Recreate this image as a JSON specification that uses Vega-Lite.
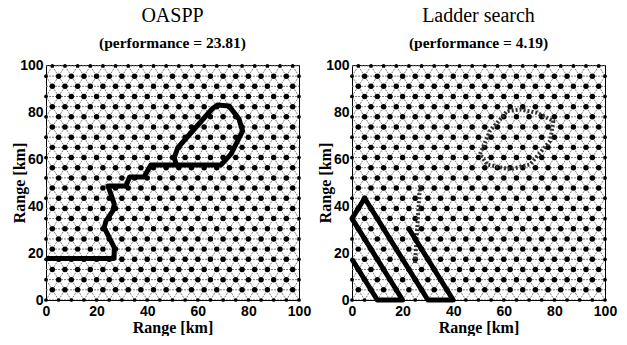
{
"$schema": "https://vega.github.io/schema/vega-lite/v6.json",
"padding": {"left": 10, "top": 5, "right": 0, "bottom": 0},
"spacing": 4,
"config": {
 "view": {"stroke": "black", "strokeWidth": 1},
 "axis": {"grid": false, "ticks": false, "domainColor": "black", "domainWidth": 1, "labelFont": "Liberation Sans", "labelFontSize": 14, "labelFontWeight": "bold", "labelColor": "black", "titleFont": "Liberation Serif", "titleFontSize": 16, "titleFontWeight": "bold", "titleColor": "black", "tickCount": 5, "labelFlush": false, "labelBound": false, "labelOverlap": false},
 "axisX": {"labelPadding": 4, "titlePadding": 1},
 "axisY": {"labelPadding": 3, "titleX": -19},
 "title": {"font": "Liberation Serif", "fontSize": 20, "fontWeight": "normal", "color": "black", "subtitleFont": "Liberation Serif", "subtitleFontSize": 15.5, "subtitleFontWeight": "bold", "subtitleColor": "black", "anchor": "middle", "offset": 7, "subtitlePadding": 10}
},
"datasets": {
 "grid": [
{"x":0,"y":0},{"x":5,"y":0},{"x":10,"y":0},{"x":15,"y":0},{"x":20,"y":0},{"x":25,"y":0},{"x":30,"y":0},{"x":35,"y":0},{"x":40,"y":0},{"x":45,"y":0},{"x":50,"y":0},{"x":55,"y":0},{"x":60,"y":0},{"x":65,"y":0},{"x":70,"y":0},{"x":75,"y":0},{"x":80,"y":0},{"x":85,"y":0},{"x":90,"y":0},{"x":95,"y":0},{"x":100,"y":0},
{"x":2.5,"y":4.33},{"x":7.5,"y":4.33},{"x":12.5,"y":4.33},{"x":17.5,"y":4.33},{"x":22.5,"y":4.33},{"x":27.5,"y":4.33},{"x":32.5,"y":4.33},{"x":37.5,"y":4.33},{"x":42.5,"y":4.33},{"x":47.5,"y":4.33},{"x":52.5,"y":4.33},{"x":57.5,"y":4.33},{"x":62.5,"y":4.33},{"x":67.5,"y":4.33},{"x":72.5,"y":4.33},{"x":77.5,"y":4.33},{"x":82.5,"y":4.33},{"x":87.5,"y":4.33},{"x":92.5,"y":4.33},{"x":97.5,"y":4.33},
{"x":0,"y":8.66},{"x":5,"y":8.66},{"x":10,"y":8.66},{"x":15,"y":8.66},{"x":20,"y":8.66},{"x":25,"y":8.66},{"x":30,"y":8.66},{"x":35,"y":8.66},{"x":40,"y":8.66},{"x":45,"y":8.66},{"x":50,"y":8.66},{"x":55,"y":8.66},{"x":60,"y":8.66},{"x":65,"y":8.66},{"x":70,"y":8.66},{"x":75,"y":8.66},{"x":80,"y":8.66},{"x":85,"y":8.66},{"x":90,"y":8.66},{"x":95,"y":8.66},{"x":100,"y":8.66},
{"x":2.5,"y":12.99},{"x":7.5,"y":12.99},{"x":12.5,"y":12.99},{"x":17.5,"y":12.99},{"x":22.5,"y":12.99},{"x":27.5,"y":12.99},{"x":32.5,"y":12.99},{"x":37.5,"y":12.99},{"x":42.5,"y":12.99},{"x":47.5,"y":12.99},{"x":52.5,"y":12.99},{"x":57.5,"y":12.99},{"x":62.5,"y":12.99},{"x":67.5,"y":12.99},{"x":72.5,"y":12.99},{"x":77.5,"y":12.99},{"x":82.5,"y":12.99},{"x":87.5,"y":12.99},{"x":92.5,"y":12.99},{"x":97.5,"y":12.99},
{"x":0,"y":17.32},{"x":5,"y":17.32},{"x":10,"y":17.32},{"x":15,"y":17.32},{"x":20,"y":17.32},{"x":25,"y":17.32},{"x":30,"y":17.32},{"x":35,"y":17.32},{"x":40,"y":17.32},{"x":45,"y":17.32},{"x":50,"y":17.32},{"x":55,"y":17.32},{"x":60,"y":17.32},{"x":65,"y":17.32},{"x":70,"y":17.32},{"x":75,"y":17.32},{"x":80,"y":17.32},{"x":85,"y":17.32},{"x":90,"y":17.32},{"x":95,"y":17.32},{"x":100,"y":17.32},
{"x":2.5,"y":21.65},{"x":7.5,"y":21.65},{"x":12.5,"y":21.65},{"x":17.5,"y":21.65},{"x":22.5,"y":21.65},{"x":27.5,"y":21.65},{"x":32.5,"y":21.65},{"x":37.5,"y":21.65},{"x":42.5,"y":21.65},{"x":47.5,"y":21.65},{"x":52.5,"y":21.65},{"x":57.5,"y":21.65},{"x":62.5,"y":21.65},{"x":67.5,"y":21.65},{"x":72.5,"y":21.65},{"x":77.5,"y":21.65},{"x":82.5,"y":21.65},{"x":87.5,"y":21.65},{"x":92.5,"y":21.65},{"x":97.5,"y":21.65},
{"x":0,"y":25.98},{"x":5,"y":25.98},{"x":10,"y":25.98},{"x":15,"y":25.98},{"x":20,"y":25.98},{"x":25,"y":25.98},{"x":30,"y":25.98},{"x":35,"y":25.98},{"x":40,"y":25.98},{"x":45,"y":25.98},{"x":50,"y":25.98},{"x":55,"y":25.98},{"x":60,"y":25.98},{"x":65,"y":25.98},{"x":70,"y":25.98},{"x":75,"y":25.98},{"x":80,"y":25.98},{"x":85,"y":25.98},{"x":90,"y":25.98},{"x":95,"y":25.98},{"x":100,"y":25.98},
{"x":2.5,"y":30.31},{"x":7.5,"y":30.31},{"x":12.5,"y":30.31},{"x":17.5,"y":30.31},{"x":22.5,"y":30.31},{"x":27.5,"y":30.31},{"x":32.5,"y":30.31},{"x":37.5,"y":30.31},{"x":42.5,"y":30.31},{"x":47.5,"y":30.31},{"x":52.5,"y":30.31},{"x":57.5,"y":30.31},{"x":62.5,"y":30.31},{"x":67.5,"y":30.31},{"x":72.5,"y":30.31},{"x":77.5,"y":30.31},{"x":82.5,"y":30.31},{"x":87.5,"y":30.31},{"x":92.5,"y":30.31},{"x":97.5,"y":30.31},
{"x":0,"y":34.64},{"x":5,"y":34.64},{"x":10,"y":34.64},{"x":15,"y":34.64},{"x":20,"y":34.64},{"x":25,"y":34.64},{"x":30,"y":34.64},{"x":35,"y":34.64},{"x":40,"y":34.64},{"x":45,"y":34.64},{"x":50,"y":34.64},{"x":55,"y":34.64},{"x":60,"y":34.64},{"x":65,"y":34.64},{"x":70,"y":34.64},{"x":75,"y":34.64},{"x":80,"y":34.64},{"x":85,"y":34.64},{"x":90,"y":34.64},{"x":95,"y":34.64},{"x":100,"y":34.64},
{"x":2.5,"y":38.97},{"x":7.5,"y":38.97},{"x":12.5,"y":38.97},{"x":17.5,"y":38.97},{"x":22.5,"y":38.97},{"x":27.5,"y":38.97},{"x":32.5,"y":38.97},{"x":37.5,"y":38.97},{"x":42.5,"y":38.97},{"x":47.5,"y":38.97},{"x":52.5,"y":38.97},{"x":57.5,"y":38.97},{"x":62.5,"y":38.97},{"x":67.5,"y":38.97},{"x":72.5,"y":38.97},{"x":77.5,"y":38.97},{"x":82.5,"y":38.97},{"x":87.5,"y":38.97},{"x":92.5,"y":38.97},{"x":97.5,"y":38.97},
{"x":0,"y":43.3},{"x":5,"y":43.3},{"x":10,"y":43.3},{"x":15,"y":43.3},{"x":20,"y":43.3},{"x":25,"y":43.3},{"x":30,"y":43.3},{"x":35,"y":43.3},{"x":40,"y":43.3},{"x":45,"y":43.3},{"x":50,"y":43.3},{"x":55,"y":43.3},{"x":60,"y":43.3},{"x":65,"y":43.3},{"x":70,"y":43.3},{"x":75,"y":43.3},{"x":80,"y":43.3},{"x":85,"y":43.3},{"x":90,"y":43.3},{"x":95,"y":43.3},{"x":100,"y":43.3},
{"x":2.5,"y":47.63},{"x":7.5,"y":47.63},{"x":12.5,"y":47.63},{"x":17.5,"y":47.63},{"x":22.5,"y":47.63},{"x":27.5,"y":47.63},{"x":32.5,"y":47.63},{"x":37.5,"y":47.63},{"x":42.5,"y":47.63},{"x":47.5,"y":47.63},{"x":52.5,"y":47.63},{"x":57.5,"y":47.63},{"x":62.5,"y":47.63},{"x":67.5,"y":47.63},{"x":72.5,"y":47.63},{"x":77.5,"y":47.63},{"x":82.5,"y":47.63},{"x":87.5,"y":47.63},{"x":92.5,"y":47.63},{"x":97.5,"y":47.63},
{"x":0,"y":51.96},{"x":5,"y":51.96},{"x":10,"y":51.96},{"x":15,"y":51.96},{"x":20,"y":51.96},{"x":25,"y":51.96},{"x":30,"y":51.96},{"x":35,"y":51.96},{"x":40,"y":51.96},{"x":45,"y":51.96},{"x":50,"y":51.96},{"x":55,"y":51.96},{"x":60,"y":51.96},{"x":65,"y":51.96},{"x":70,"y":51.96},{"x":75,"y":51.96},{"x":80,"y":51.96},{"x":85,"y":51.96},{"x":90,"y":51.96},{"x":95,"y":51.96},{"x":100,"y":51.96},
{"x":2.5,"y":56.29},{"x":7.5,"y":56.29},{"x":12.5,"y":56.29},{"x":17.5,"y":56.29},{"x":22.5,"y":56.29},{"x":27.5,"y":56.29},{"x":32.5,"y":56.29},{"x":37.5,"y":56.29},{"x":42.5,"y":56.29},{"x":47.5,"y":56.29},{"x":52.5,"y":56.29},{"x":57.5,"y":56.29},{"x":62.5,"y":56.29},{"x":67.5,"y":56.29},{"x":72.5,"y":56.29},{"x":77.5,"y":56.29},{"x":82.5,"y":56.29},{"x":87.5,"y":56.29},{"x":92.5,"y":56.29},{"x":97.5,"y":56.29},
{"x":0,"y":60.62},{"x":5,"y":60.62},{"x":10,"y":60.62},{"x":15,"y":60.62},{"x":20,"y":60.62},{"x":25,"y":60.62},{"x":30,"y":60.62},{"x":35,"y":60.62},{"x":40,"y":60.62},{"x":45,"y":60.62},{"x":50,"y":60.62},{"x":55,"y":60.62},{"x":60,"y":60.62},{"x":65,"y":60.62},{"x":70,"y":60.62},{"x":75,"y":60.62},{"x":80,"y":60.62},{"x":85,"y":60.62},{"x":90,"y":60.62},{"x":95,"y":60.62},{"x":100,"y":60.62},
{"x":2.5,"y":64.95},{"x":7.5,"y":64.95},{"x":12.5,"y":64.95},{"x":17.5,"y":64.95},{"x":22.5,"y":64.95},{"x":27.5,"y":64.95},{"x":32.5,"y":64.95},{"x":37.5,"y":64.95},{"x":42.5,"y":64.95},{"x":47.5,"y":64.95},{"x":52.5,"y":64.95},{"x":57.5,"y":64.95},{"x":62.5,"y":64.95},{"x":67.5,"y":64.95},{"x":72.5,"y":64.95},{"x":77.5,"y":64.95},{"x":82.5,"y":64.95},{"x":87.5,"y":64.95},{"x":92.5,"y":64.95},{"x":97.5,"y":64.95},
{"x":0,"y":69.28},{"x":5,"y":69.28},{"x":10,"y":69.28},{"x":15,"y":69.28},{"x":20,"y":69.28},{"x":25,"y":69.28},{"x":30,"y":69.28},{"x":35,"y":69.28},{"x":40,"y":69.28},{"x":45,"y":69.28},{"x":50,"y":69.28},{"x":55,"y":69.28},{"x":60,"y":69.28},{"x":65,"y":69.28},{"x":70,"y":69.28},{"x":75,"y":69.28},{"x":80,"y":69.28},{"x":85,"y":69.28},{"x":90,"y":69.28},{"x":95,"y":69.28},{"x":100,"y":69.28},
{"x":2.5,"y":73.61},{"x":7.5,"y":73.61},{"x":12.5,"y":73.61},{"x":17.5,"y":73.61},{"x":22.5,"y":73.61},{"x":27.5,"y":73.61},{"x":32.5,"y":73.61},{"x":37.5,"y":73.61},{"x":42.5,"y":73.61},{"x":47.5,"y":73.61},{"x":52.5,"y":73.61},{"x":57.5,"y":73.61},{"x":62.5,"y":73.61},{"x":67.5,"y":73.61},{"x":72.5,"y":73.61},{"x":77.5,"y":73.61},{"x":82.5,"y":73.61},{"x":87.5,"y":73.61},{"x":92.5,"y":73.61},{"x":97.5,"y":73.61},
{"x":0,"y":77.94},{"x":5,"y":77.94},{"x":10,"y":77.94},{"x":15,"y":77.94},{"x":20,"y":77.94},{"x":25,"y":77.94},{"x":30,"y":77.94},{"x":35,"y":77.94},{"x":40,"y":77.94},{"x":45,"y":77.94},{"x":50,"y":77.94},{"x":55,"y":77.94},{"x":60,"y":77.94},{"x":65,"y":77.94},{"x":70,"y":77.94},{"x":75,"y":77.94},{"x":80,"y":77.94},{"x":85,"y":77.94},{"x":90,"y":77.94},{"x":95,"y":77.94},{"x":100,"y":77.94},
{"x":2.5,"y":82.27},{"x":7.5,"y":82.27},{"x":12.5,"y":82.27},{"x":17.5,"y":82.27},{"x":22.5,"y":82.27},{"x":27.5,"y":82.27},{"x":32.5,"y":82.27},{"x":37.5,"y":82.27},{"x":42.5,"y":82.27},{"x":47.5,"y":82.27},{"x":52.5,"y":82.27},{"x":57.5,"y":82.27},{"x":62.5,"y":82.27},{"x":67.5,"y":82.27},{"x":72.5,"y":82.27},{"x":77.5,"y":82.27},{"x":82.5,"y":82.27},{"x":87.5,"y":82.27},{"x":92.5,"y":82.27},{"x":97.5,"y":82.27},
{"x":0,"y":86.6},{"x":5,"y":86.6},{"x":10,"y":86.6},{"x":15,"y":86.6},{"x":20,"y":86.6},{"x":25,"y":86.6},{"x":30,"y":86.6},{"x":35,"y":86.6},{"x":40,"y":86.6},{"x":45,"y":86.6},{"x":50,"y":86.6},{"x":55,"y":86.6},{"x":60,"y":86.6},{"x":65,"y":86.6},{"x":70,"y":86.6},{"x":75,"y":86.6},{"x":80,"y":86.6},{"x":85,"y":86.6},{"x":90,"y":86.6},{"x":95,"y":86.6},{"x":100,"y":86.6},
{"x":2.5,"y":90.93},{"x":7.5,"y":90.93},{"x":12.5,"y":90.93},{"x":17.5,"y":90.93},{"x":22.5,"y":90.93},{"x":27.5,"y":90.93},{"x":32.5,"y":90.93},{"x":37.5,"y":90.93},{"x":42.5,"y":90.93},{"x":47.5,"y":90.93},{"x":52.5,"y":90.93},{"x":57.5,"y":90.93},{"x":62.5,"y":90.93},{"x":67.5,"y":90.93},{"x":72.5,"y":90.93},{"x":77.5,"y":90.93},{"x":82.5,"y":90.93},{"x":87.5,"y":90.93},{"x":92.5,"y":90.93},{"x":97.5,"y":90.93},
{"x":0,"y":95.26},{"x":5,"y":95.26},{"x":10,"y":95.26},{"x":15,"y":95.26},{"x":20,"y":95.26},{"x":25,"y":95.26},{"x":30,"y":95.26},{"x":35,"y":95.26},{"x":40,"y":95.26},{"x":45,"y":95.26},{"x":50,"y":95.26},{"x":55,"y":95.26},{"x":60,"y":95.26},{"x":65,"y":95.26},{"x":70,"y":95.26},{"x":75,"y":95.26},{"x":80,"y":95.26},{"x":85,"y":95.26},{"x":90,"y":95.26},{"x":95,"y":95.26},{"x":100,"y":95.26},
{"x":2.5,"y":99.59},{"x":7.5,"y":99.59},{"x":12.5,"y":99.59},{"x":17.5,"y":99.59},{"x":22.5,"y":99.59},{"x":27.5,"y":99.59},{"x":32.5,"y":99.59},{"x":37.5,"y":99.59},{"x":42.5,"y":99.59},{"x":47.5,"y":99.59},{"x":52.5,"y":99.59},{"x":57.5,"y":99.59},{"x":62.5,"y":99.59},{"x":67.5,"y":99.59},{"x":72.5,"y":99.59},{"x":77.5,"y":99.59},{"x":82.5,"y":99.59},{"x":87.5,"y":99.59},{"x":92.5,"y":99.59},{"x":97.5,"y":99.59}
 ],
 "mesh": [
{"a":0,"b":0,"c":100,"d":0},{"a":0,"b":4.33,"c":100,"d":4.33},{"a":0,"b":8.66,"c":100,"d":8.66},{"a":0,"b":12.99,"c":100,"d":12.99},{"a":0,"b":17.32,"c":100,"d":17.32},{"a":0,"b":21.65,"c":100,"d":21.65},{"a":0,"b":25.98,"c":100,"d":25.98},{"a":0,"b":30.31,"c":100,"d":30.31},{"a":0,"b":34.64,"c":100,"d":34.64},{"a":0,"b":38.97,"c":100,"d":38.97},{"a":0,"b":43.3,"c":100,"d":43.3},{"a":0,"b":47.63,"c":100,"d":47.63},{"a":0,"b":51.96,"c":100,"d":51.96},{"a":0,"b":56.29,"c":100,"d":56.29},{"a":0,"b":60.62,"c":100,"d":60.62},{"a":0,"b":64.95,"c":100,"d":64.95},{"a":0,"b":69.28,"c":100,"d":69.28},{"a":0,"b":73.61,"c":100,"d":73.61},{"a":0,"b":77.94,"c":100,"d":77.94},{"a":0,"b":82.27,"c":100,"d":82.27},{"a":0,"b":86.6,"c":100,"d":86.6},{"a":0,"b":90.93,"c":100,"d":90.93},{"a":0,"b":95.26,"c":100,"d":95.26},{"a":0,"b":99.59,"c":100,"d":99.59},
{"a":-55,"b":0,"c":2.5,"d":99.59},{"a":-50,"b":0,"c":7.5,"d":99.59},{"a":-45,"b":0,"c":12.5,"d":99.59},{"a":-40,"b":0,"c":17.5,"d":99.59},{"a":-35,"b":0,"c":22.5,"d":99.59},{"a":-30,"b":0,"c":27.5,"d":99.59},{"a":-25,"b":0,"c":32.5,"d":99.59},{"a":-20,"b":0,"c":37.5,"d":99.59},{"a":-15,"b":0,"c":42.5,"d":99.59},{"a":-10,"b":0,"c":47.5,"d":99.59},{"a":-5,"b":0,"c":52.5,"d":99.59},{"a":0,"b":0,"c":57.5,"d":99.59},{"a":5,"b":0,"c":62.5,"d":99.59},{"a":10,"b":0,"c":67.5,"d":99.59},{"a":15,"b":0,"c":72.5,"d":99.59},{"a":20,"b":0,"c":77.5,"d":99.59},{"a":25,"b":0,"c":82.5,"d":99.59},{"a":30,"b":0,"c":87.5,"d":99.59},{"a":35,"b":0,"c":92.5,"d":99.59},{"a":40,"b":0,"c":97.5,"d":99.59},{"a":45,"b":0,"c":102.5,"d":99.59},{"a":50,"b":0,"c":107.5,"d":99.59},{"a":55,"b":0,"c":112.5,"d":99.59},{"a":60,"b":0,"c":117.5,"d":99.59},{"a":65,"b":0,"c":122.5,"d":99.59},{"a":70,"b":0,"c":127.5,"d":99.59},{"a":75,"b":0,"c":132.5,"d":99.59},{"a":80,"b":0,"c":137.5,"d":99.59},{"a":85,"b":0,"c":142.5,"d":99.59},{"a":90,"b":0,"c":147.5,"d":99.59},{"a":95,"b":0,"c":152.5,"d":99.59},
{"a":5,"b":0,"c":-52.5,"d":99.59},{"a":10,"b":0,"c":-47.5,"d":99.59},{"a":15,"b":0,"c":-42.5,"d":99.59},{"a":20,"b":0,"c":-37.5,"d":99.59},{"a":25,"b":0,"c":-32.5,"d":99.59},{"a":30,"b":0,"c":-27.5,"d":99.59},{"a":35,"b":0,"c":-22.5,"d":99.59},{"a":40,"b":0,"c":-17.5,"d":99.59},{"a":45,"b":0,"c":-12.5,"d":99.59},{"a":50,"b":0,"c":-7.5,"d":99.59},{"a":55,"b":0,"c":-2.5,"d":99.59},{"a":60,"b":0,"c":2.5,"d":99.59},{"a":65,"b":0,"c":7.5,"d":99.59},{"a":70,"b":0,"c":12.5,"d":99.59},{"a":75,"b":0,"c":17.5,"d":99.59},{"a":80,"b":0,"c":22.5,"d":99.59},{"a":85,"b":0,"c":27.5,"d":99.59},{"a":90,"b":0,"c":32.5,"d":99.59},{"a":95,"b":0,"c":37.5,"d":99.59},{"a":100,"b":0,"c":42.5,"d":99.59},{"a":105,"b":0,"c":47.5,"d":99.59},{"a":110,"b":0,"c":52.5,"d":99.59},{"a":115,"b":0,"c":57.5,"d":99.59},{"a":120,"b":0,"c":62.5,"d":99.59},{"a":125,"b":0,"c":67.5,"d":99.59},{"a":130,"b":0,"c":72.5,"d":99.59},{"a":135,"b":0,"c":77.5,"d":99.59},{"a":140,"b":0,"c":82.5,"d":99.59},{"a":145,"b":0,"c":87.5,"d":99.59},{"a":150,"b":0,"c":92.5,"d":99.59},{"a":155,"b":0,"c":97.5,"d":99.59}
 ]
},
"hconcat": [
 {
  "width": 253, "height": 235,
  "title": {"text": "OASPP", "subtitle": "(performance = 23.81)"},
  "layer": [
   {"data": {"name": "mesh"}, "mark": {"type": "rule", "clip": true, "color": "#808080", "strokeWidth": 1, "strokeDash": [2, 1]},
    "encoding": {"x": {"field": "a", "type": "quantitative", "scale": {"domain": [0, 100], "nice": false, "zero": false}, "title": "Range [km]"}, "y": {"field": "b", "type": "quantitative", "scale": {"domain": [0, 100], "nice": false, "zero": false}, "title": "Range [km]"}, "x2": {"field": "c"}, "y2": {"field": "d"}}},
   {"data": {"name": "grid"}, "mark": {"type": "circle", "color": "black", "opacity": 1},
    "encoding": {"x": {"field": "x", "type": "quantitative", "title": "Range [km]"}, "y": {"field": "y", "type": "quantitative", "title": "Range [km]"}, "size": {"condition": {"test": "datum.x == 0 || datum.x == 100 || datum.y == 0 || datum.y > 99", "value": 14}, "value": 30}}},
   {"data": {"values": [
     {"i":0,"x":0,"y":17.7},{"i":1,"x":26.9,"y":17.7},{"i":2,"x":27,"y":22.3},{"i":3,"x":25,"y":26.5},{"i":4,"x":23,"y":30.8},{"i":5,"x":23.7,"y":33.6},{"i":6,"x":25,"y":35.7},{"i":7,"x":26.4,"y":37.9},{"i":8,"x":27,"y":40.7},{"i":9,"x":26,"y":44},{"i":10,"x":24.5,"y":48.5},{"i":11,"x":31.6,"y":48.5},{"i":12,"x":33,"y":52.3},{"i":13,"x":38.7,"y":52.3},{"i":14,"x":41.5,"y":57.5},{"i":15,"x":69.2,"y":57.5},{"i":16,"x":73.1,"y":62.1},{"i":17,"x":77.7,"y":71.9},{"i":18,"x":76.3,"y":77},{"i":19,"x":72.3,"y":82.6},{"i":20,"x":67.9,"y":83},{"i":21,"x":65.9,"y":81.6},{"i":22,"x":52.1,"y":64.8},{"i":23,"x":50.7,"y":60.6},{"i":24,"x":51.5,"y":57.5}
    ]},
    "mark": {"type": "line", "color": "black", "strokeWidth": 5, "strokeJoin": "round"},
    "encoding": {"x": {"field": "x", "type": "quantitative", "title": "Range [km]"}, "y": {"field": "y", "type": "quantitative", "title": "Range [km]"}, "order": {"field": "i"}}}
  ]
 },
 {
  "width": 253, "height": 235,
  "title": {"text": "Ladder search", "subtitle": "(performance = 4.19)"},
  "layer": [
   {"data": {"name": "mesh"}, "mark": {"type": "rule", "clip": true, "color": "#808080", "strokeWidth": 1, "strokeDash": [2, 1]},
    "encoding": {"x": {"field": "a", "type": "quantitative", "scale": {"domain": [0, 100], "nice": false, "zero": false}, "title": "Range [km]"}, "y": {"field": "b", "type": "quantitative", "scale": {"domain": [0, 100], "nice": false, "zero": false}, "title": "Range [km]"}, "x2": {"field": "c"}, "y2": {"field": "d"}}},
   {"data": {"name": "grid"}, "mark": {"type": "circle", "color": "black", "opacity": 1},
    "encoding": {"x": {"field": "x", "type": "quantitative", "title": "Range [km]"}, "y": {"field": "y", "type": "quantitative", "title": "Range [km]"}, "size": {"condition": {"test": "datum.x == 0 || datum.x == 100 || datum.y == 0 || datum.y > 99", "value": 14}, "value": 30}}},
   {"data": {"values": [
     {"g":"loop","i":0,"x":50.6,"y":62.1},{"g":"loop","i":1,"x":54.5,"y":71.9},{"g":"loop","i":2,"x":61.3,"y":80.4},{"g":"loop","i":3,"x":66.4,"y":81.1},{"g":"loop","i":4,"x":73,"y":79.7},{"g":"loop","i":5,"x":79.6,"y":76.2},{"g":"loop","i":6,"x":78.3,"y":67.7},{"g":"loop","i":7,"x":70.4,"y":57.7},{"g":"loop","i":8,"x":62.5,"y":55.6},{"g":"loop","i":9,"x":53.4,"y":57.7},{"g":"loop","i":10,"x":50.6,"y":62.1},
     {"g":"seg","i":0,"x":24.9,"y":15.7},{"g":"seg","i":1,"x":26.9,"y":49.4}
    ]},
    "mark": {"type": "line", "color": "#333333", "strokeWidth": 4, "strokeDash": [2, 2], "strokeJoin": "round"},
    "encoding": {"x": {"field": "x", "type": "quantitative", "title": "Range [km]"}, "y": {"field": "y", "type": "quantitative", "title": "Range [km]"}, "detail": {"field": "g"}, "order": {"field": "i"}}},
   {"data": {"values": [
     {"i":0,"x":0,"y":17.32},{"i":1,"x":10,"y":0},{"i":2,"x":20,"y":0},{"i":3,"x":0,"y":34.64},{"i":4,"x":5,"y":43.3},{"i":5,"x":30,"y":0},{"i":6,"x":40,"y":0},{"i":7,"x":22.5,"y":30.31}
    ]},
    "mark": {"type": "line", "color": "black", "strokeWidth": 5, "strokeJoin": "round"},
    "encoding": {"x": {"field": "x", "type": "quantitative", "title": "Range [km]"}, "y": {"field": "y", "type": "quantitative", "title": "Range [km]"}, "order": {"field": "i"}}}
  ]
 }
]
}
